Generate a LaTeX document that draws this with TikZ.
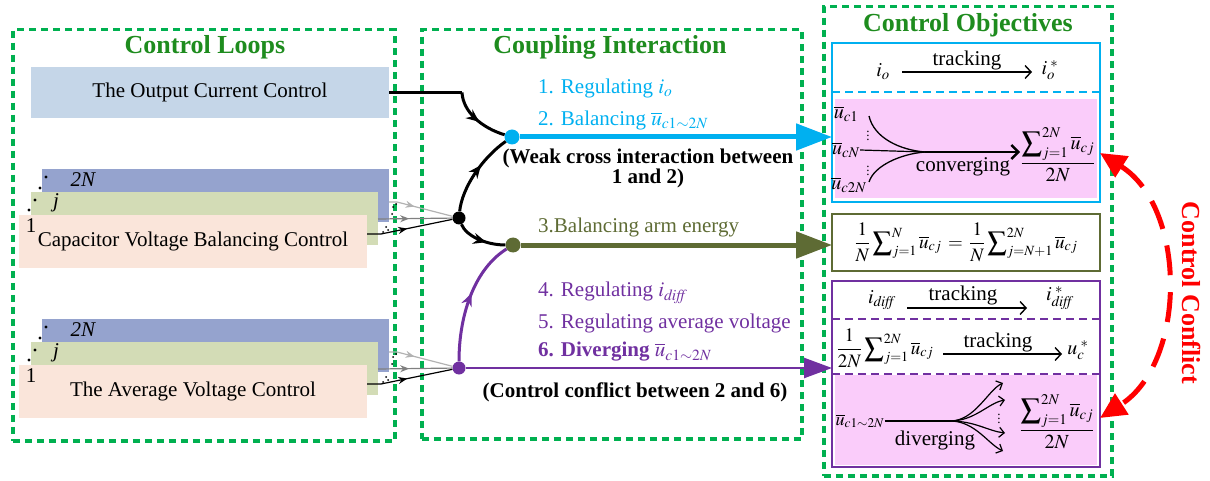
\documentclass[tikz,border=0pt]{standalone}
\usepackage{amsmath}
\usepackage{mathptmx}
\usepackage{fontspec}
\setmainfont{Liberation Serif}
\usetikzlibrary{arrows.meta,decorations.markings,calc}
\definecolor{grpgreen}{RGB}{0,176,80}
\definecolor{ttlgreen}{RGB}{30,140,30}
\definecolor{ocblue}{RGB}{197,214,232}
\definecolor{stkblue}{RGB}{149,163,206}
\definecolor{stkgreen}{RGB}{211,220,182}
\definecolor{stkpink}{RGB}{250,229,218}
\definecolor{cyanb}{RGB}{0,176,240}
\definecolor{olivec}{RGB}{94,107,52}
\definecolor{purp}{RGB}{112,48,160}
\definecolor{pinkf}{RGB}{250,204,250}
\newcommand\fA{\fontsize{21}{25}\selectfont}
\newcommand\fB{\fontsize{21}{20}\selectfont\bfseries}
\newcommand\fT{\fontsize{26}{30}\selectfont\bfseries}
\newcommand\fM{\fontsize{20}{24}\selectfont}
\newcommand\fS{\fontsize{20}{24}\selectfont}
\tikzset{
 grpbox/.style={anchor=north west, draw=grpgreen, line width=3.5pt, dash pattern=on 7pt off 5pt, inner sep=0pt},
 ttl/.style={font=\fT, text=ttlgreen},
 blk/.style={anchor=north west, inner sep=0pt, outer sep=0pt},
 lbl/.style={font=\fA, inner sep=0pt},
 mlbl/.style={font=\fM, inner sep=0pt},
 jdot/.style={circle, fill, inner sep=0pt, minimum size=#1},
 midL/.style={postaction={decorate}, decoration={markings, mark=at position #1 with {\arrow{Stealth[length=13pt,width=11pt]}}}},
 midS/.style={postaction={decorate}, decoration={markings, mark=at position #1 with {\arrow{Stealth[length=9pt,width=7pt]}}}},
 trk/.style={line width=1.4pt, -{Straight Barb[length=6pt,width=13pt]}},
 fan/.style={line width=1.2pt, -{Straight Barb[length=5pt,width=10pt]}},
 conn/.style={line width=3pt},
 vdt/.style={inner sep=0pt, font=\fontsize{13}{13}\selectfont},
}
\begin{document}
\begin{tikzpicture}[x=1pt,y=-1pt]
\path[use as bounding box] (0,0) rectangle (1210,481);

% ---------- group frames and titles ----------
\node[grpbox, minimum width=382pt, minimum height=411pt] (G1) at (11,28) {};
\node[grpbox, minimum width=380pt, minimum height=409pt] (G2) at (420,28) {};
\node[grpbox, minimum width=288pt, minimum height=469pt] (G3) at (822,5) {};
\node[ttl] (T1) at (205,47) {Control Loops};
\node[ttl] (T2) at (610,47) {Coupling Interaction};
\node[ttl] (T3) at (968,25) {Control Objectives};

% ---------- control loops ----------
\node[blk, fill=ocblue, minimum width=358pt, minimum height=51pt, font=\fA] (oc) at (31,67) {The Output Current Control};

\node[blk, fill=stkblue, minimum width=347pt, minimum height=53pt] (capB) at (42,169) {};
\node[blk, fill=stkgreen, minimum width=347pt, minimum height=53pt] (capG) at (31,192) {};
\node[blk, fill=stkpink, minimum width=348pt, minimum height=53pt, font=\fA] (capP) at (19,215) {Capacitor Voltage Balancing Control};
\node[lbl, font=\fA\itshape] (capN) at (83,180) {2N};
\node[lbl, font=\fA\itshape] (capj) at (56,203) {j};
\node[lbl] (cap1) at (31,226) {1};
\node[jdot=3.2pt] (cd1) at (46,177) {};
\node[jdot=3.2pt] (cd2) at (40,188) {};
\node[jdot=3.2pt] (cd3) at (35,200) {};
\node[jdot=3.2pt] (cd4) at (29,210) {};

\node[blk, fill=stkblue, minimum width=347pt, minimum height=53pt] (avgB) at (42,319) {};
\node[blk, fill=stkgreen, minimum width=347pt, minimum height=53pt] (avgG) at (31,342) {};
\node[blk, fill=stkpink, minimum width=348pt, minimum height=53pt, font=\fA] (avgP) at (19,365) {The Average Voltage Control};
\node[lbl, font=\fA\itshape] (avgN) at (83,330) {2N};
\node[lbl, font=\fA\itshape] (avgj) at (56,353) {j};
\node[lbl] (avg1) at (31,376) {1};
\node[jdot=3.2pt] (ad1) at (46,327) {};
\node[jdot=3.2pt] (ad2) at (40,338) {};
\node[jdot=3.2pt] (ad3) at (35,350) {};
\node[jdot=3.2pt] (ad4) at (29,360) {};

% ---------- junctions ----------
\node[jdot=13pt, black] (J1) at (459,218) {};
\node[jdot=15pt, cyanb] (B) at (512,137) {};
\node[jdot=15pt, olivec] (O) at (513,245) {};
\node[jdot=13pt, purp] (P) at (459,368) {};

% ---------- objective boxes ----------
\fill[pinkf] (835,99) rectangle (1097,198);
\node[blk, draw=cyanb, line width=2.5pt, minimum width=268pt, minimum height=159pt] (OB) at (832,43) {};
\draw[cyanb, line width=1.5pt, dash pattern=on 8pt off 5pt] (OB.west |- 0,92) -- (OB.east |- 0,92);

\node[blk, draw=olivec, line width=2.5pt, minimum width=268pt, minimum height=57pt] (OO) at (832,214) {};

\fill[pinkf] (835,375) rectangle (1097,465);
\node[blk, draw=purp, line width=2.5pt, minimum width=268pt, minimum height=186pt] (OP) at (832,281) {};
\draw[purp, line width=1.5pt, dash pattern=on 8pt off 5pt] (OP.west |- 0,319) -- (OP.east |- 0,319);
\draw[purp, line width=1.5pt, dash pattern=on 8pt off 5pt] (OP.west |- 0,374) -- (OP.east |- 0,374);

% ---------- stack arrows (capacitor) ----------
\coordinate (cs1) at (389,202); \coordinate (cs1b) at (397,202);
\coordinate (cs2) at (378,219);
\coordinate (cs3) at (367,234); \coordinate (cs3b) at (381,234);
\draw[gray!60, line width=1.2pt, midS=0.4] (cs1) -- (cs1b) -- (J1);
\draw[gray, line width=1.2pt, midS=0.42] (cs2) -- (J1);
\draw[black, line width=1.2pt, midS=0.47] (cs3) -- (cs3b) -- (J1);
\foreach \p in {(396,204),(393,207),(392,214),(386,227),(388,230),(383,232)} \fill \p circle (1pt);

% ---------- stack arrows (average) ----------
\coordinate (as1) at (389,352); \coordinate (as1b) at (397,352);
\coordinate (as2) at (378,369);
\coordinate (as3) at (367,384); \coordinate (as3b) at (381,384);
\draw[gray!60, line width=1.2pt, midS=0.4] (as1) -- (as1b) -- (P);
\draw[gray, line width=1.2pt, midS=0.42] (as2) -- (P);
\draw[black, line width=1.2pt, midS=0.47] (as3) -- (as3b) -- (P);
\foreach \p in {(396,354),(393,357),(392,364),(386,377),(388,380),(383,382)} \fill \p circle (1pt);

% ---------- coupling connectors ----------
\coordinate (ocb) at (462,92.5);
\draw[conn] (oc.east) -- (ocb);
\draw[conn, midL=0.55] (ocb) .. controls (463,112) and (482,128) .. (B);
\draw[conn, midL=0.6] (J1) .. controls (462,188) and (482,158) .. (B);
\draw[conn, midL=0.62] (J1) .. controls (466,236) and (486,245) .. (O);
\draw[purp, line width=3pt, midL=0.55] (P) .. controls (459,312) and (476,268) .. (O);

\draw[cyanb, line width=5pt, -{Triangle[length=36pt,width=26pt]}] (B) -- (B -| OB.west);
\draw[olivec, line width=5pt, -{Triangle[length=36pt,width=26pt]}] (O) -- (O -| OO.west);
\draw[purp, line width=2.5pt, -{Triangle[length=28pt,width=20pt]}] (P) -- (P -| OP.west);

% ---------- coupling texts ----------
\node[lbl, anchor=west, text=cyanb] (m1) at (538,88) {1. Regulating $i_o$};
\node[lbl, anchor=west, text=cyanb] (m2) at (538,120) {2. Balancing $\overline{u}_{c1\sim 2N}$};
\node[font=\fB, align=center, inner sep=0pt] (m3) at (648,168) {(Weak cross interaction between\\1 and 2)};
\node[lbl, anchor=west, text=olivec] (m4) at (538,227) {3.Balancing arm energy};
\node[lbl, anchor=west, text=purp] (m5) at (538,293) {4. Regulating $i_{\mathit{diff}}$};
\node[lbl, anchor=west, text=purp] (m6) at (538,323) {5. Regulating average voltage};
\node[lbl, anchor=west, text=purp, font=\fA\bfseries] (m7) at (538,352) {6. Diverging $\overline{u}_{c1\sim 2N}$};
\node[font=\fB, inner sep=0pt] (m8) at (635,392) {(Control conflict between 2 and 6)};

% ---------- objective 1 ----------
\node[mlbl] (io) at (883,72) {$i_o$};
\node[mlbl] (ios) at (1050,70) {$i_o^{\;*}$};
\coordinate (a1s) at (902,72); \coordinate (a1e) at (1032,72);
\draw[trk] (a1s) -- (a1e);
\node[lbl] (tr1) at (967,60) {tracking};

\node[mlbl, font=\fS] (uc1) at (846,114) {$\overline{u}_{c1}$};
\node[mlbl, font=\fS] (ucN) at (846,150) {$\overline{u}_{cN}$};
\node[mlbl, font=\fS] (uc2N) at (849,185) {$\overline{u}_{c2N}$};
\node[vdt] (vd1) at (868,133) {$\vdots$};
\node[vdt] (vd2) at (868,168) {$\vdots$};
\coordinate (cv) at (925,152);
\coordinate (c1s) at (869,116);
\coordinate (c3s) at (869,182);
\coordinate (cve) at (1020,152);
\draw[line width=1.3pt] (c1s) .. controls (874,138) and (900,150) .. (cv);
\draw[line width=1.3pt] (c3s) .. controls (874,166) and (900,154) .. (cv);
\draw[line width=1.2pt] (ucN.east) -- (cv);
\draw[line width=2.4pt, -{Straight Barb[length=7pt,width=14pt]}] (cv) -- (cve);
\node[lbl] (cvt) at (963,167) {converging};
\node[mlbl] (fr1) at (1058,155) {$\dfrac{\displaystyle\sum\nolimits_{j=1}^{2N}\overline{u}_{cj}}{2N}$};

% ---------- objective 2 ----------
\node[mlbl, font=\fontsize{19}{22}\selectfont] (eq2) at (966,242) {$\dfrac{1}{N}\displaystyle\sum\nolimits_{j=1}^{N}\overline{u}_{cj} \,=\, \dfrac{1}{N}\displaystyle\sum\nolimits_{j=N+1}^{2N}\overline{u}_{cj}$};

% ---------- objective 3 ----------
\node[mlbl] (idf) at (882,300) {$i_{\mathit{diff}}$};
\node[mlbl] (idfs) at (1060,298) {$i_{\mathit{diff}}^{\;*}$};
\coordinate (a2s) at (907,308); \coordinate (a2e) at (1027,308);
\draw[trk] (a2s) -- (a2e);
\node[lbl] (tr2) at (963,295) {tracking};

\node[mlbl, font=\fontsize{19}{22}\selectfont] (avgs) at (885,348) {$\dfrac{1}{2N}\displaystyle\sum\nolimits_{j=1}^{2N}\overline{u}_{cj}$};
\node[mlbl] (ucs) at (1078,350) {$u_c^{\;*}$};
\coordinate (a3s) at (943,354); \coordinate (a3e) at (1062,354);
\draw[trk] (a3s) -- (a3e);
\node[lbl] (tr3) at (998,342) {tracking};

\node[mlbl, font=\fontsize{18}{22}\selectfont] (ucd) at (860,421) {$\overline{u}_{c1\sim 2N}$};
\coordinate (dv) at (950,421);
\coordinate (e1) at (1003,383);
\coordinate (e2) at (1005,400);
\coordinate (e3) at (1005,433);
\coordinate (e4) at (1003,451);
\draw[line width=2.4pt] (ucd.east) -- (dv);
\draw[fan] (dv) .. controls (975,421) and (988,390) .. (e1);
\draw[fan] (dv) .. controls (975,421) and (988,403) .. (e2);
\draw[fan] (dv) .. controls (975,421) and (988,431) .. (e3);
\draw[fan] (dv) .. controls (975,421) and (988,444) .. (e4);
\node[vdt] (vd3) at (999,416) {$\vdots$};
\node[lbl] (dvt) at (935,440) {diverging};
\node[mlbl] (fr2) at (1057,422) {$\dfrac{\displaystyle\sum\nolimits_{j=1}^{2N}\overline{u}_{cj}}{2N}$};

% ---------- control conflict ----------
\coordinate (rTop) at (1100,153);
\coordinate (rBot) at (1100,418);
\draw[red, line width=5pt, dash pattern=on 30pt off 17pt, {Triangle[length=26pt,width=24pt]}-{Triangle[length=26pt,width=24pt]}] (rTop) .. controls (1187,208) and (1187,362) .. (rBot);
\node[rotate=-90, text=red, font=\fT] (cc) at (1192,293) {Control Conflict};
\end{tikzpicture}
\end{document}
